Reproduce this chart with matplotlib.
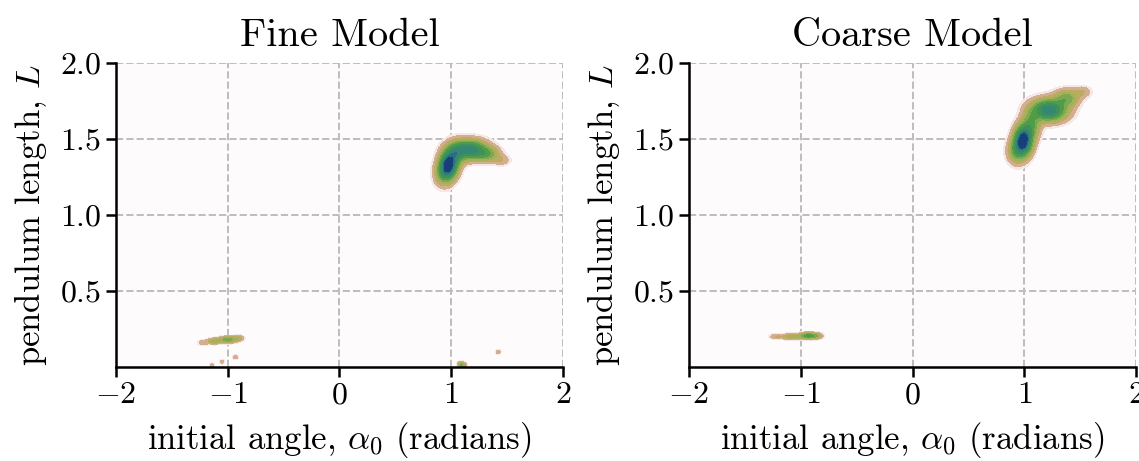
import numpy as np
import matplotlib
matplotlib.use("Agg")
import matplotlib.pyplot as plt

plt.rcParams["font.family"] = "serif"
plt.rcParams["font.serif"] = ["cmr10"]
plt.rcParams["mathtext.fontset"] = "cm"
plt.rcParams["axes.formatter.use_mathtext"] = True

# density modes: centre x, centre y, spread x, spread y, peak height
fine_cx = [0.975, 1.04, 1.16, 1.32, 1.45, 0.93,
           -1.22, -1.12, -1.00, -0.90,
           -0.93, -1.05, -1.14, 1.42, 1.09, 1.12]
fine_cy = [1.33, 1.40, 1.43, 1.40, 1.36, 1.27,
           0.16, 0.17, 0.18, 0.19,
           0.065, 0.035, 0.01, 0.10, 0.015, 0.01]
fine_sx = [0.05, 0.05, 0.10, 0.07, 0.05, 0.05,
           0.03, 0.04, 0.05, 0.03,
           0.015, 0.015, 0.015, 0.015, 0.02, 0.015]
fine_sy = [0.055, 0.05, 0.04, 0.03, 0.022, 0.05,
           0.012, 0.012, 0.013, 0.012,
           0.01, 0.01, 0.01, 0.01, 0.012, 0.01]
fine_amp = [1.0, 0.35, 0.75, 0.3, 0.1, 0.3,
            0.1, 0.22, 0.36, 0.14,
            0.1, 0.09, 0.09, 0.1, 0.3, 0.09]

coarse_cx = [0.99, 1.06, 1.22, 1.38, 1.52, 0.93,
             -1.22, -1.08, -0.93, -0.85]
coarse_cy = [1.49, 1.59, 1.69, 1.77, 1.81, 1.42,
             0.20, 0.20, 0.205, 0.205]
coarse_sx = [0.05, 0.05, 0.10, 0.07, 0.05, 0.05,
             0.04, 0.06, 0.05, 0.03]
coarse_sy = [0.06, 0.06, 0.045, 0.035, 0.025, 0.05,
             0.012, 0.012, 0.013, 0.012]
coarse_amp = [1.0, 0.35, 0.75, 0.3, 0.1, 0.3,
              0.1, 0.2, 0.42, 0.14]

level_fracs = [0.02, 0.045, 0.1, 0.16, 0.24, 0.33, 0.45, 0.58, 0.7, 0.8, 1.01]
band_shades = [0.03, 0.15, 0.25, 0.35, 0.44, 0.52, 0.6, 0.67, 0.76, 0.86]
titles = ["Fine Model", "Coarse Model"]


def density(X, Y, cx, cy, sx, sy, amp):
    Z = np.zeros_like(X)
    for a, b, c, d, e in zip(cx, cy, sx, sy, amp):
        Z += e * np.exp(-0.5 * (((X - a) / c) ** 2 + ((Y - b) / d) ** 2))
    return Z


xs = np.linspace(-2, 2, 900)
ys = np.linspace(0, 2, 900)
X, Y = np.meshgrid(xs, ys)

cmap = plt.get_cmap("gist_earth_r")

fig, axes = plt.subplots(1, 2, figsize=(11.39, 4.61), dpi=100)
fig.subplots_adjust(left=0.1018, right=0.9974, top=0.8633, bottom=0.2039, wspace=0.282)

models = [(fine_cx, fine_cy, fine_sx, fine_sy, fine_amp),
          (coarse_cx, coarse_cy, coarse_sx, coarse_sy, coarse_amp)]

for ax, title, m in zip(axes, titles, models):
    Z = density(X, Y, *m)
    Z = Z / Z.max()
    ax.set_facecolor(cmap(0.0))
    ax.contourf(X, Y, Z, levels=level_fracs, colors=cmap(band_shades), zorder=2)
    ax.set_xlim(-2, 2)
    ax.set_ylim(0, 2)
    ax.set_xticks([-2, -1, 0, 1, 2])
    ax.set_yticks([0.5, 1.0, 1.5, 2.0])
    ax.grid(True, ls="--", color="#bdbdbd", lw=1.4, zorder=1)
    ax.set_axisbelow(True)
    for s in ["top", "right"]:
        ax.spines[s].set_visible(False)
    for s in ["left", "bottom"]:
        ax.spines[s].set_linewidth(1.8)
        ax.spines[s].set_zorder(5)
    ax.tick_params(labelsize=23, width=1.8, length=7, direction="out")
    ax.set_title(title, fontsize=29, pad=12)
    ax.set_xlabel(r"initial angle, $\alpha_0$ (radians)", fontsize=25, labelpad=8)
    ax.set_ylabel(r"pendulum length, $L$", fontsize=25, labelpad=8)

fig.savefig("out.png", dpi=100)
